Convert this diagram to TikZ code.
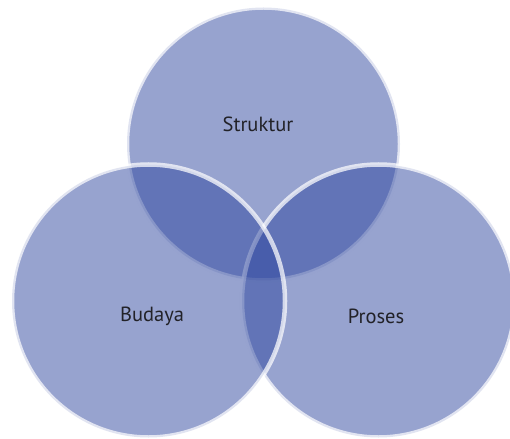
\documentclass[tikz,border=0pt]{standalone}
\usepackage{fontspec}
\setmainfont{PT Sans}
\definecolor{vennfill}{RGB}{47,71,159}
\definecolor{labeltext}{RGB}{34,34,40}
\begin{document}
\begin{tikzpicture}[x=1pt,y=-1pt,
  venn/.style={circle, inner sep=0pt, outer sep=0pt, minimum size=273pt,
    fill=vennfill, fill opacity=0.5, draw=white, draw opacity=0.72, line width=4.5pt},
  vennlabel/.style={text=labeltext, font=\fontsize{20.5}{24}\selectfont, inner sep=0pt}]
\useasboundingbox (0,0) rectangle (510,438);
\begin{scope}
\clip (0,0) rectangle (510,438);
\node[venn] (top) at (263.5,144) {};
\node[venn] (right) at (378.5,301) {};
\node[venn] (left) at (148.5,301) {};
\end{scope}
\node[vennlabel] (struktur) at (258,124) {Struktur};
\node[vennlabel] (budaya) at (152,316) {Budaya};
\node[vennlabel] (proses) at (376,316) {Proses};
\end{tikzpicture}
\end{document}
